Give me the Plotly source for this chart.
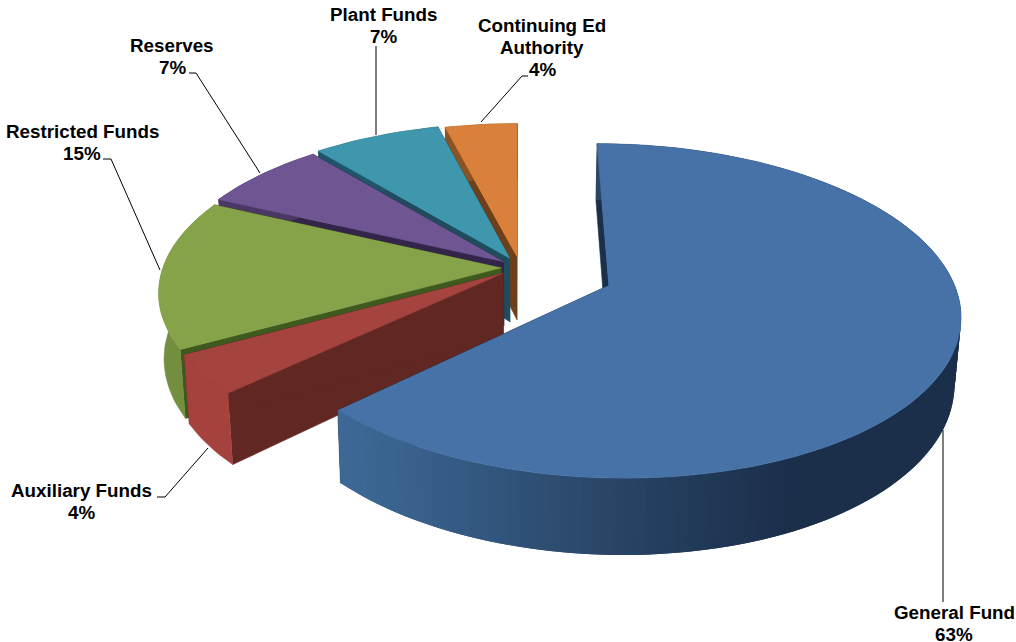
import numpy as np
import plotly.graph_objects as go

# Budget shares by fund, clockwise from twelve o'clock
funds = ["General Fund", "Auxiliary Funds", "Restricted Funds", "Reserves", "Plant Funds", "Continuing Ed Authority"]
shares = [63, 4, 15, 7, 7, 4]
pulls = [0.28, 0.06, 0.055, 0.06, 0.065, 0.07]
radii = [1.0, 0.985, 0.995, 0.995, 1.0, 0.985]

top_colors = ["#4672A7", "#A5443F", "#87A34A", "#6F5592", "#3F97AE", "#D9813A"]
rim_colors = ["#1B2F4A", "#A5423E", "#748E40", "#4A3763", "#1F5566", "#8C5222"]
edge_colors = ["#1B2F4A", "#612722", "#3F5A1E", "#33254A", "#1F4D5E", "#6E3F18"]

# Label lines and their leader lines
label_lines = {
    "General Fund": (954, [612], ["General Fund"]),
    "Auxiliary Funds": (81, [490], ["Auxiliary Funds"]),
    "Restricted Funds": (82, [131], ["Restricted Funds"]),
    "Reserves": (172, [45], ["Reserves"]),
    "Plant Funds": (383, [14], ["Plant Funds"]),
    "Continuing Ed Authority": (542, [25, 47], ["Continuing Ed", "Authority"]),
}
leaders = {
    "General Fund": ([943, 943], [430, 602]),
    "Auxiliary Funds": ([208, 165, 157], [448, 497, 497]),
    "Restricted Funds": ([160, 111, 103], [270, 159, 159]),
    "Reserves": ([260, 196, 189], [173, 73, 73]),
    "Plant Funds": ([376, 376], [135, 46]),
    "Continuing Ed Authority": ([481, 522, 528], [122, 76, 76]),
}

# Projection of the tilted disc onto the page
CX, CY = 520.0, 267.5
RX, RY = 340.0, 158.0
PERSPECTIVE = 0.15
DEPTH = 64.0
SHRINK = 0.985


def project(px, py):
    w = 1 + PERSPECTIVE * py
    return CX + RX * px / w, CY - RY * py / w


def drop(px, py):
    """Page position of the underside of a disc point."""
    x, y = project(px, py)
    w = 1 + PERSPECTIVE * py
    return CX + (x - CX) * SHRINK, y + DEPTH / w


def hex_rgb(c):
    return np.array([int(c[i:i + 2], 16) for i in (1, 3, 5)], dtype=float)


def blue_wall(x):
    stops = [340, 420, 500, 600, 700, 800]
    cols = ["#3E6997", "#38608B", "#32557C", "#2B4768", "#213A58", "#1B2F4A"]
    rgb = [np.interp(x, stops, [hex_rgb(c)[i] for c in cols]) for i in range(3)]
    return "rgb(%d,%d,%d)" % tuple(rgb)


def poly(xs, ys, color, name=None, outline=0.6):
    return go.Scatter(
        x=list(xs), y=list(ys), mode="lines", fill="toself", fillcolor=color,
        line=dict(color=color, width=outline), showlegend=False,
        hoverinfo="text" if name else "skip", text=name, name=name or "",
    )


def radial_face(i, angle, ox, oy):
    ex = np.array([ox, ox + radii[i] * np.sin(angle)])
    ey = np.array([oy, oy + radii[i] * np.cos(angle)])
    tx, ty = project(ex, ey)
    bx, by = drop(ex, ey)
    return poly([tx[0], tx[1], bx[1], bx[0]], [ty[0], ty[1], by[1], by[0]], edge_colors[i])


fig = go.Figure()
fractions = np.array(shares) / sum(shares)
ends = np.cumsum(fractions) * 2 * np.pi
starts = ends - fractions * 2 * np.pi

# Back slices first, the large front slice last
for i in range(len(funds) - 1, -1, -1):
    a0, a1 = starts[i], ends[i]
    mid = (a0 + a1) / 2
    ox, oy = pulls[i] * np.sin(mid), pulls[i] * np.cos(mid)
    th = np.linspace(a0, a1, max(8, int(shares[i] * 2.4)))
    px, py = ox + radii[i] * np.sin(th), oy + radii[i] * np.cos(th)

    fig.add_trace(radial_face(i, a0, ox, oy))
    fig.add_trace(radial_face(i, a1, ox, oy))

    tx, ty = project(px, py)
    bx, by = drop(px, py)
    if i == 0:
        # Shaded rim: each strip overlaps the next so no seams appear
        for j in range(len(th) - 1):
            k = min(j + 2, len(th) - 1)
            color = blue_wall((tx[j] + tx[j + 1]) / 2)
            fig.add_trace(poly([tx[j], tx[k], bx[k], bx[j]], [ty[j], ty[k], by[k], by[j]], color, outline=0))
    else:
        fig.add_trace(poly(np.r_[tx, bx[::-1]], np.r_[ty, by[::-1]], rim_colors[i]))

    # Top face
    fx, fy = project(np.r_[ox, px], np.r_[oy, py])
    fig.add_trace(poly(fx, fy, top_colors[i], name=f"{funds[i]}: {shares[i]}%"))

# Leaders and labels
for name, share in zip(funds, shares):
    lx, ly = leaders[name]
    fig.add_trace(go.Scatter(x=lx, y=ly, mode="lines", line=dict(color="black", width=1),
                             showlegend=False, hoverinfo="skip"))
    cx, ys, texts = label_lines[name]
    rows = list(zip(ys, texts)) + [(ys[-1] + 22, f"{share}%")]
    for y, text in rows:
        fig.add_annotation(x=cx, y=y, text=f"<b>{text}</b>", showarrow=False,
                           xanchor="center", yanchor="middle",
                           font=dict(family="Liberation Sans", size=18.8, color="black"))

fig.update_layout(
    width=1016, height=642, margin=dict(l=0, r=0, t=0, b=0),
    paper_bgcolor="white", plot_bgcolor="white", showlegend=False,
    xaxis=dict(range=[0, 1016], visible=False, fixedrange=True),
    yaxis=dict(range=[642, 0], visible=False, fixedrange=True),
)
fig.write_html("out.html", config=dict(displayModeBar=False))
